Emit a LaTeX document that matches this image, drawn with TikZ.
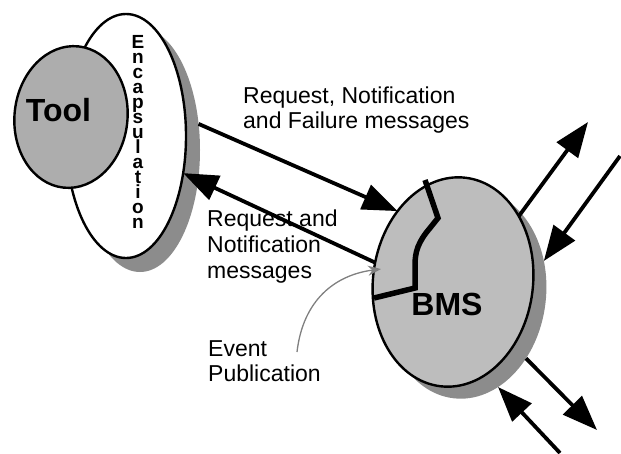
\documentclass[tikz,border=0pt]{standalone}
\usepackage{fontspec}
\setmainfont{Liberation Sans}
\usetikzlibrary{shapes.geometric,arrows.meta}
\definecolor{shadowgray}{gray}{0.55}
\definecolor{toolgray}{gray}{0.68}
\definecolor{bmsgray}{gray}{0.74}
\begin{document}
\begin{tikzpicture}[x=1pt,y=-1pt,
  blob/.style={ellipse, inner sep=0pt, outer sep=0pt},
  rim/.style={draw, line width=2.4pt},
  msg/.style={line width=3.8pt, -{Triangle[length=35pt,width=26pt]}},
  lbl/.style={anchor=north west, inner sep=0pt, align=left},
  big/.style={font=\fontsize{32}{32}\selectfont\bfseries},
  letter/.style={anchor=base, inner sep=0pt, font=\fontsize{19}{19}\selectfont\bfseries}]
\useasboundingbox (0,0) rectangle (621,453);

% tool with its encapsulation wrapper
\node[blob, fill=shadowgray, minimum width=120pt, minimum height=244pt] (encsh) at (140,150) {};
\node[blob, rim, fill=white, minimum width=120pt, minimum height=244pt] (enc) at (126,136) {};
\node[blob, rim, fill=toolgray, minimum width=113pt, minimum height=142pt, rotate=-6] (tool) at (71,117) {};
\node[big, inner sep=0pt] (tooltxt) at (58.5,110) {Tool};
% the word "Encapsulation", one upright letter per row
\foreach \ch [count=\i] in {E,n,c,a,p,s,u,l,a,t,i,o,n}
  \node[letter] (encl\i) at (138,33+15*\i) {\ch};

% broker
\node[blob, fill=shadowgray, minimum width=160pt, minimum height=210pt, rotate=-7] (bmssh) at (466,294) {};
\node[blob, rim, fill=bmsgray, minimum width=160pt, minimum height=210pt, rotate=-7] (bms) at (453,282) {};
\draw[line width=5.5pt, line join=miter] (425,180) -- (438,218) -- (430,228)
  .. controls (418,242) and (415,252) .. (415,265) -- (415,288) -- (374,298);
\node[big, inner sep=0pt] (bmstxt) at (447,304) {BMS};

% labels
\node[lbl, font=\fontsize{23}{25}\selectfont] (msgA) at (243,87) {Request, Notification\\and Failure messages};
\node[lbl, font=\fontsize{23}{26}\selectfont] (msgB) at (207,210) {Request and\\Notification\\messages};
\node[lbl, font=\fontsize{23}{25}\selectfont] (evt) at (208,340) {Event\\Publication};

% message flows
\draw[msg] (encsh.24) -- (bms.135);
\draw[msg] (bms.173) -- (enc.-33);

\coordinate (out1) at (588,122);
\coordinate (in1) at (620,156);
\coordinate (out2) at (597,430);
\coordinate (in2) at (560,453);
\draw[msg] (bms.52) -- (out1);
\draw[msg] (in1) -- (bmssh.30);
\draw[msg] (bmssh.-40) -- (out2);
\draw[msg] (in2) -- (bmssh.-64);

% event publication
\coordinate (evs) at (297,352);
\coordinate (evtip) at (381,269);
\draw[gray, line width=1.3pt, -{Stealth[length=13pt,width=10pt]}]
  (evs) .. controls (303,300) and (335,275) .. (evtip);
\end{tikzpicture}
\end{document}
